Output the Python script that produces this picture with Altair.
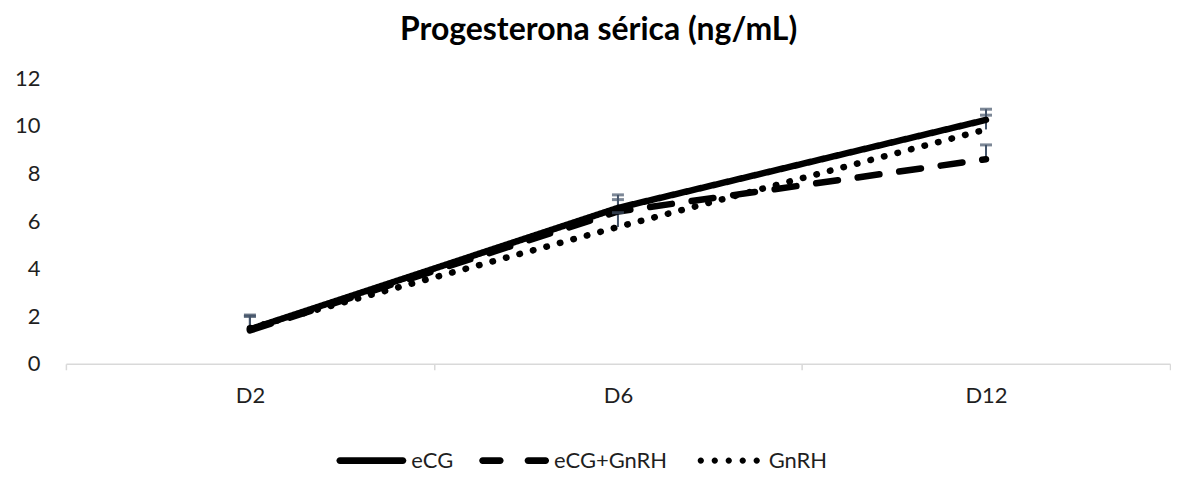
import altair as alt
import pandas as pd

days = ["D2", "D6", "D12"]
series = ["eCG", "eCG+GnRH", "GnRH"]
ecg = [1.45, 6.55, 10.25]
ecg_gnrh = [1.40, 6.40, 8.60]
gnrh = [1.50, 5.75, 9.85]
ecg_err = [0.60, 0.55, 0.45]
ecg_gnrh_err = [0.60, 0.50, 0.60]
gnrh_err = [0.50, 0.60, 0.60]

rows = []
for name, vals, errs in zip(series, [ecg, ecg_gnrh, gnrh], [ecg_err, ecg_gnrh_err, gnrh_err]):
    for d, v, e in zip(days, vals, errs):
        rows.append({"day": d, "serie": name, "valor": v, "sup": v + e})
df = pd.DataFrame(rows)

FONT = "Lato"
TXT = "#1f1f1f"
ERRC = "#44546A"

x = alt.X("day:N", sort=days, bandPosition=0.5,
          scale=alt.Scale(type="band", paddingInner=0, paddingOuter=0),
          axis=alt.Axis(title=None, labelAngle=0, tickBand="extent", domainColor="#d9d9d9",
                        domainWidth=1.5, tickColor="#d9d9d9", tickWidth=1.5, tickSize=6,
                        labelFontSize=22, labelFont=FONT, labelColor=TXT, labelPadding=16))
y = alt.Y("valor:Q", scale=alt.Scale(domain=[0, 12], nice=False),
          axis=alt.Axis(title=None, values=[0, 2, 4, 6, 8, 10, 12], grid=False, domain=False,
                        ticks=False, labelFontSize=22, labelFont=FONT, labelColor=TXT,
                        labelPadding=26))

base = alt.Chart(df)

err_rule = base.mark_rule(color=ERRC, strokeWidth=2).encode(
    x=x, y=y, y2="sup:Q")
err_cap = base.mark_tick(color=ERRC, size=12, thickness=3).encode(
    x=x, y=alt.Y("sup:Q"))

lines = base.mark_line(color="black", strokeWidth=6.5, strokeCap="round", strokeJoin="round").encode(
    x=x, y=y,
    strokeDash=alt.StrokeDash("serie:N", sort=series,
                              scale=alt.Scale(domain=series, range=[[1, 0], [22, 20], [0.5, 13.5]]),
                              legend=None),
    detail="serie:N",
)

solid = "M-0.9,-0.1H0.9A0.1,0.1 0 0 1 0.9,0.1H-0.9A0.1,0.1 0 0 1 -0.9,-0.1Z"
dashed = ("M-0.9,-0.1H-0.4A0.1,0.1 0 0 1 -0.4,0.1H-0.9A0.1,0.1 0 0 1 -0.9,-0.1Z "
          "M0.4,-0.1H0.9A0.1,0.1 0 0 1 0.9,0.1H0.4A0.1,0.1 0 0 1 0.4,-0.1Z")
r = 0.09
dots = " ".join(
    f"M{c - r},0A{r},{r} 0 1 0 {c + r},0A{r},{r} 0 1 0 {c - r},0Z" for c in [-0.8, -0.4, 0, 0.4, 0.8]
)

legend_pts = base.mark_point(filled=True, opacity=0, color="black").encode(
    x=x, y=y,
    shape=alt.Shape("serie:N", sort=series,
                    scale=alt.Scale(domain=series, range=[solid, dashed, dots]),
                    legend=alt.Legend(title=None, orient="none", direction="horizontal",
                                      legendX=271, legendY=348,
                                      symbolSize=4900, symbolFillColor="black",
                                      symbolStrokeColor="black",
                                      symbolStrokeWidth=0, symbolOpacity=1,
                                      labelFontSize=22, labelFont=FONT, labelColor=TXT,
                                      labelOffset=5, columnPadding=26)),
)

chart = alt.layer(legend_pts, err_rule, lines, err_cap).properties(
    width=1106, height=286,
    padding={"left": 6, "top": 6, "right": 0, "bottom": 0},
    title=alt.TitleParams("Progesterona sérica (ng/mL)", font=FONT, fontSize=32,
                          fontWeight="bold", color="black", anchor="middle", frame="bounds",
                          offset=20, dx=6),
).configure_view(stroke=None)

chart.save("out.html", embed_options={"renderer": "svg", "actions": False})
